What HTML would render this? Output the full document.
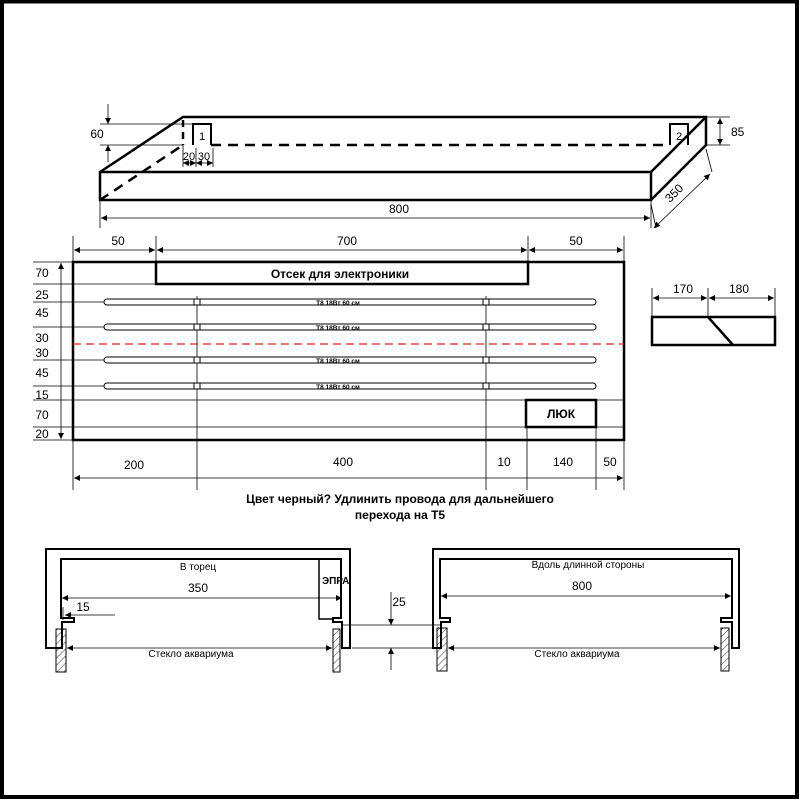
<!DOCTYPE html>
<html><head><meta charset="utf-8"><style>
html,body{margin:0;padding:0;background:#fff}
svg{display:block}
text{font-family:"Liberation Sans",Arial,sans-serif;fill:#000}
</style></head><body>
<svg width="800" height="800" viewBox="0 0 800 800" xmlns="http://www.w3.org/2000/svg">
<defs>
<marker id="a" viewBox="0 0 10 10" refX="10" refY="5" markerWidth="8" markerHeight="6" orient="auto-start-reverse" markerUnits="userSpaceOnUse"><path d="M0,0 L10,5 L0,10 z" fill="#000"/></marker>
<pattern id="h" width="5" height="5" patternUnits="userSpaceOnUse" patternTransform="rotate(45)"><line x1="0" y1="0" x2="0" y2="5" stroke="#000" stroke-width="0.8"/></pattern>
</defs>
<rect x="0" y="0" width="800" height="800" fill="#fff"/>
<rect x="2" y="1.5" width="795" height="795.5" fill="none" stroke="#000" stroke-width="4"/>

<!-- ISO BOX -->
<g fill="none" stroke="#000" stroke-width="2.5">
<rect x="100" y="172" width="551" height="28"/>
<path d="M100,172 L183,117 H706 V145 L651,200 M651,172 L706,117"/>
<path d="M193,145 V124 H211 V145 M670,145 V124 H688 V145" stroke-width="2"/>
</g>
<g fill="none" stroke="#000" stroke-width="2.5" stroke-dasharray="10,7">
<path d="M211,145 H670"/>
<path d="M100,200 L183,145"/>
<path d="M183,120 V145" stroke-dasharray="7,5"/>
</g>
<text x="202" y="140" font-size="11" text-anchor="middle">1</text>
<text x="679" y="140" font-size="11" text-anchor="middle">2</text>
<g stroke="#000" stroke-width="0.8" fill="none">
<path d="M100,124 H193 M100,145 H183"/>
<path d="M108,104 V124" marker-end="url(#a)"/>
<path d="M108,162 V145" marker-end="url(#a)"/>
<path d="M183,145 V167 M196,148 V167 M213,148 V167"/>
<path d="M183,163 H196" marker-end="url(#a)" marker-start="url(#a)"/>
<path d="M196,163 H213" marker-end="url(#a)" marker-start="url(#a)"/>
<path d="M706,117 H730 M706,145 H730"/>
<path d="M720,118 V145" marker-end="url(#a)" marker-start="url(#a)"/>
<path d="M100,200 V228 M651,200 V228"/>
<path d="M101,218 H650" marker-end="url(#a)" marker-start="url(#a)"/>
<path d="M651,204 L656,228 M706,149 L712,172"/>
<path d="M654,228 L710,174" marker-end="url(#a)" marker-start="url(#a)"/>
</g>
<text x="97" y="138" font-size="12" text-anchor="middle">60</text>
<text x="189" y="160" font-size="11" text-anchor="middle">20</text>
<text x="204" y="160" font-size="11" text-anchor="middle">30</text>
<text x="731" y="136" font-size="12">85</text>
<text x="399" y="213" font-size="12" text-anchor="middle">800</text>
<text x="677" y="196" font-size="12" text-anchor="middle" transform="rotate(-45 677 196)">350</text>

<!-- PLAN -->
<g stroke="#000" stroke-width="0.8" fill="none">
<path d="M73,236 V262 M156,236 V262 M528,236 V262 M624,236 V262"/>
<path d="M74,250 H155" marker-end="url(#a)" marker-start="url(#a)"/>
<path d="M157,250 H527" marker-end="url(#a)" marker-start="url(#a)"/>
<path d="M529,250 H623" marker-end="url(#a)" marker-start="url(#a)"/>
<path d="M33,262 H73 M33,284 H156 M33,302 H104 M33,327 H104 M33,360 H104 M33,386 H104 M33,400 H624 M33,427 H624 M33,440 H73"/>
<path d="M61,263 V439" marker-end="url(#a)" marker-start="url(#a)"/>
<path d="M197,296 V490 M486,296 V490 M527,427 V490 M596,427 V490 M73,440 V490 M624,440 V490"/>
<path d="M74,478 H623" marker-end="url(#a)" marker-start="url(#a)"/>
</g>
<text x="118" y="245" font-size="12" text-anchor="middle">50</text>
<text x="347" y="245" font-size="12" text-anchor="middle">700</text>
<text x="576" y="245" font-size="12" text-anchor="middle">50</text>
<g font-size="12" text-anchor="middle">
<text x="42" y="277">70</text><text x="42" y="299">25</text><text x="42" y="317">45</text>
<text x="42" y="342">30</text><text x="42" y="357">30</text><text x="42" y="377">45</text>
<text x="42" y="399">15</text><text x="42" y="419">70</text><text x="42" y="438">20</text>
<text x="134" y="469">200</text><text x="343" y="466">400</text><text x="504" y="466">10</text>
<text x="563" y="466">140</text><text x="610" y="466">50</text>
</g>
<rect x="73" y="262" width="551" height="178" fill="none" stroke="#000" stroke-width="2.5"/>
<rect x="156" y="262" width="372" height="22" fill="#fff" stroke="#000" stroke-width="2.5"/>
<text x="340" y="278" font-size="12" font-weight="bold" text-anchor="middle">Отсек для электроники</text>
<path d="M73,344 H624" stroke="#e02020" stroke-width="1.3" stroke-dasharray="8,5"/>
<g fill="#fff" stroke="#000" stroke-width="1">
<rect x="104" y="299" width="492" height="6" rx="3"/>
<rect x="104" y="324" width="492" height="6" rx="3"/>
<rect x="104" y="357" width="492" height="6" rx="3"/>
<rect x="104" y="383" width="492" height="6" rx="3"/>
<rect x="194" y="299" width="6" height="6"/><rect x="483" y="299" width="6" height="6"/>
<rect x="194" y="324" width="6" height="6"/><rect x="483" y="324" width="6" height="6"/>
<rect x="194" y="357" width="6" height="6"/><rect x="483" y="357" width="6" height="6"/>
<rect x="194" y="383" width="6" height="6"/><rect x="483" y="383" width="6" height="6"/>
</g>
<g font-size="6.5" text-anchor="middle" font-weight="bold">
<text x="338" y="305">Т8 18Вт 60 см</text><text x="338" y="330">Т8 18Вт 60 см</text>
<text x="338" y="363">Т8 18Вт 60 см</text><text x="338" y="389">Т8 18Вт 60 см</text>
</g>
<rect x="526" y="400" width="70" height="27" fill="#fff" stroke="#000" stroke-width="2.5"/>
<text x="561" y="418" font-size="12" font-weight="bold" text-anchor="middle">ЛЮК</text>

<!-- small side -->
<g stroke="#000" stroke-width="0.8" fill="none">
<path d="M652,288 V317 M708,288 V317 M775,288 V317"/>
<path d="M653,298 H707" marker-end="url(#a)" marker-start="url(#a)"/>
<path d="M709,298 H774" marker-end="url(#a)" marker-start="url(#a)"/>
</g>
<text x="683" y="293" font-size="12" text-anchor="middle">170</text>
<text x="739" y="293" font-size="12" text-anchor="middle">180</text>
<rect x="652" y="317" width="123" height="28" fill="none" stroke="#000" stroke-width="2.5"/>
<path d="M708,317 L733,345" stroke="#000" stroke-width="2.5"/>

<text x="400" y="503" font-size="12" font-weight="bold" text-anchor="middle">Цвет черный?  Удлинить провода для дальнейшего</text>
<text x="400" y="519" font-size="12" font-weight="bold" text-anchor="middle">перехода на T5</text>

<!-- bottom profiles -->
<g fill="none" stroke="#000" stroke-width="2.5">
<path d="M46,549 H350 V648 H342 V622 H333 V618 H341 V559 H61 V618 H74 V622 H62 V648 H46 Z" stroke-width="2"/>
<path d="M433,549 H739 V648 H732 V622 H721 V618 H732 V559 H440 V618 H450 V622 H441 V648 H433 Z" stroke-width="2"/>
<path d="M319,559 V619 H333" stroke-width="1.5"/>
</g>
<g stroke="#000" stroke-width="1">
<rect x="56" y="629" width="10" height="43" fill="url(#h)"/>
<rect x="333" y="629" width="7" height="43" fill="url(#h)"/>
<rect x="437" y="628" width="10" height="43" fill="url(#h)"/>
<rect x="721" y="628" width="8" height="43" fill="url(#h)"/>
</g>
<g stroke="#000" stroke-width="0.8" fill="none">
<path d="M62,598 H342" marker-end="url(#a)" marker-start="url(#a)"/>
<path d="M63,607 V620"/>
<path d="M115,615 H65" marker-end="url(#a)"/>
<path d="M67,648 H332" marker-end="url(#a)" marker-start="url(#a)"/>
<path d="M441,596 H731" marker-end="url(#a)" marker-start="url(#a)"/>
<path d="M448,648 H720" marker-end="url(#a)" marker-start="url(#a)"/>
<path d="M341,625 H441 M352,648 H433"/>
<path d="M391,592 V625" marker-end="url(#a)"/>
<path d="M391,670 V648" marker-end="url(#a)"/>
</g>
<text x="322" y="584" font-size="10" font-weight="bold">ЭПРА</text>
<g font-size="10" text-anchor="middle">
<text x="198" y="570">В торец</text>
<text x="191" y="657">Стекло аквариума</text>
<text x="588" y="568">Вдоль длинной стороны</text>
<text x="577" y="657">Стекло аквариума</text>
</g>
<text x="198" y="592" font-size="12" text-anchor="middle">350</text>
<text x="582" y="590" font-size="12" text-anchor="middle">800</text>
<text x="83" y="611" font-size="12" text-anchor="middle">15</text>
<text x="399" y="606" font-size="12" text-anchor="middle">25</text>
</svg>
</body></html>
